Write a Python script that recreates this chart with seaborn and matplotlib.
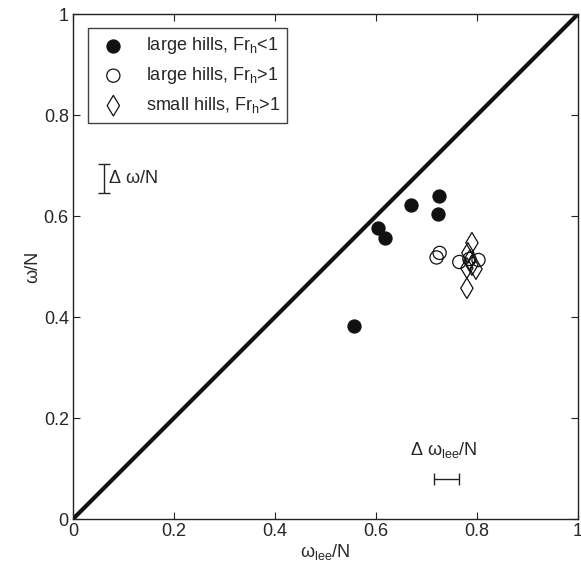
import matplotlib
matplotlib.use("Agg")
import matplotlib.pyplot as plt
import seaborn as sns
import pandas as pd

sns.set_theme(style="ticks")
plt.rcParams['font.family'] = ['Liberation Sans', 'DejaVu Sans']
plt.rcParams['mathtext.fontset'] = 'custom'
plt.rcParams['mathtext.rm'] = 'Liberation Sans'
plt.rcParams['mathtext.it'] = 'Liberation Sans'

# data
large_sub_x = [0.556, 0.604, 0.618, 0.669, 0.723, 0.725]
large_sub_y = [0.382, 0.576, 0.556, 0.622, 0.604, 0.640]
large_sup_x = [0.720, 0.726, 0.765, 0.785, 0.803]
large_sup_y = [0.518, 0.527, 0.509, 0.515, 0.513]
small_sup_x = [0.790, 0.782, 0.786, 0.790, 0.780, 0.798, 0.780]
small_sup_y = [0.547, 0.527, 0.513, 0.503, 0.497, 0.495, 0.457]
labels = [r"large hills, Fr$_\mathregular{h}$<1",
          r"large hills, Fr$_\mathregular{h}$>1",
          r"small hills, Fr$_\mathregular{h}$>1"]

FS = 13

fig = plt.figure(figsize=(5.81, 5.86), dpi=100)
ax = fig.add_axes([0.1256, 0.1143, 0.8692, 0.8617])

ax.plot([0, 1], [0, 1], color="#111111", lw=3.0, zorder=1)

df1 = pd.DataFrame({"x": large_sub_x, "y": large_sub_y})
df2 = pd.DataFrame({"x": large_sup_x, "y": large_sup_y})
df3 = pd.DataFrame({"x": small_sup_x, "y": small_sup_y})
sns.scatterplot(data=df1, x="x", y="y", ax=ax, marker="o", s=90, color="#111111",
                edgecolor="#111111", linewidth=0.8, label=labels[0], zorder=3)
sns.scatterplot(data=df2, x="x", y="y", ax=ax, marker="o", s=90, facecolor="none",
                edgecolor="#111111", linewidth=0.9, label=labels[1], zorder=3)
sns.scatterplot(data=df3, x="x", y="y", ax=ax, marker="d", s=110, facecolor="none",
                edgecolor="#111111", linewidth=0.9, label=labels[2], zorder=3)

# error bar indicators
ax.errorbar([0.061], [0.675], yerr=[[0.029], [0.029]], fmt="none", ecolor="#222222",
            elinewidth=1.0, capsize=4, capthick=1.0)
ax.text(0.070, 0.675, r"$\Delta$ ω/N", fontsize=FS, va="center", ha="left")
ax.errorbar([0.740], [0.079], xerr=[[0.025], [0.025]], fmt="none", ecolor="#222222",
            elinewidth=1.0, capsize=4, capthick=1.0)
ax.text(0.668, 0.127, r"$\Delta$ ω$_\mathregular{lee}$/N", fontsize=FS, va="baseline", ha="left")

ax.set_xlim(0, 1)
ax.set_ylim(0, 1)
ticks = [0, 0.2, 0.4, 0.6, 0.8, 1]
ticklabels = ["0", "0.2", "0.4", "0.6", "0.8", "1"]
ax.set_xticks(ticks)
ax.set_xticklabels(ticklabels)
ax.set_yticks(ticks)
ax.set_yticklabels(ticklabels)
ax.tick_params(direction="in", top=True, right=True, labelsize=FS, length=5,
               width=0.8, color="#222222", pad=3)
for sp in ax.spines.values():
    sp.set_linewidth(1.0)
    sp.set_color("#222222")
ax.set_xlabel(r"ω$_\mathregular{lee}$/N", fontsize=FS, labelpad=1)
ax.set_ylabel("ω/N", fontsize=FS, labelpad=2)

leg = ax.legend(loc="upper left", bbox_to_anchor=(0.012, 0.99), fontsize=FS,
                frameon=True, fancybox=False, edgecolor="#111111",
                handletextpad=0.8, borderpad=0.4, labelspacing=0.5)
leg.get_frame().set_linewidth(1.0)

fig.savefig("out.png", dpi=100)
